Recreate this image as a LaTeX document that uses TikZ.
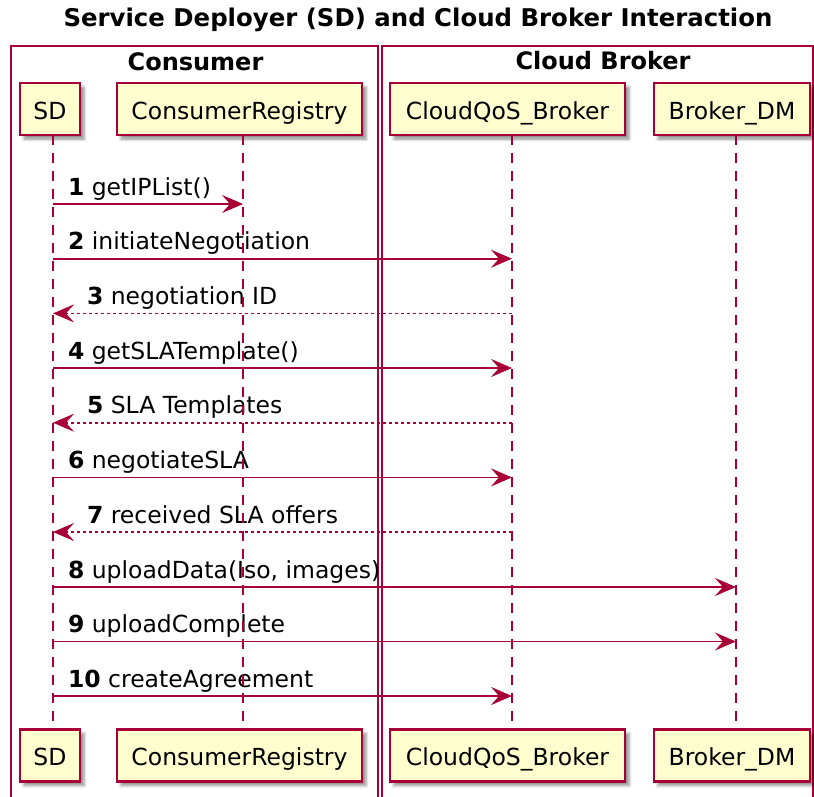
\documentclass[tikz,border=0pt]{standalone}
\usepackage{fontspec}
\setmainfont{DejaVu Sans}
\usetikzlibrary{arrows.meta,shadows.blur}

\definecolor{umlborder}{HTML}{A80036}
\definecolor{umlfill}{HTML}{FEFECE}

\begin{document}
\begin{tikzpicture}[x=1pt,y=-1pt,
  every node/.style={inner sep=0pt, outer sep=0pt, font=\fontsize{23.5}{28}\selectfont},
  actor/.style={draw=umlborder, fill=umlfill, line width=2.2pt,
    minimum height=52pt, text height=22pt, text depth=2pt,
    blur shadow={shadow xshift=4pt, shadow yshift=-4pt,
      shadow blur radius=3pt, shadow opacity=45}},
  groupbox/.style={draw=umlborder, line width=1.5pt},
  grouptitle/.style={anchor=base, font=\fontsize{24}{28}\selectfont\bfseries},
  lifeline/.style={draw=umlborder, line width=1.8pt, dash pattern=on 10pt off 8pt},
  call/.style={draw=umlborder, line width=1.8pt,
    -{Stealth[length=21pt, width=18pt, inset=8pt, fill=umlborder]}},
  reply/.style={call, dash pattern=on 3pt off 3pt},
  lbl/.style={anchor=base west}
]
\useasboundingbox (0,0) rectangle (814,796);
\clip (0,0) rectangle (814,796);

% title
\node[anchor=base, font=\fontsize{24.4}{28}\selectfont\bfseries] (title) at (418,26)
  {Service Deployer (SD) and Cloud Broker Interaction};

% participant groups
\draw[groupbox] (11,46) rectangle (378,810);
\draw[groupbox] (382,46) rectangle (813,810);
\node[grouptitle] (gConsumer) at (195.5,70) {Consumer};
\node[grouptitle] (gBroker) at (603,69) {Cloud Broker};

% participants, head and foot
\node[actor, minimum width=60pt]  (SDtop)  at (50,109)    {SD};
\node[actor, minimum width=245pt] (CRtop)  at (239.5,109) {ConsumerRegistry};
\node[actor, minimum width=235pt] (QoStop) at (507.5,109) {CloudQoS\_Broker};
\node[actor, minimum width=156pt] (DMtop)  at (732,109)   {Broker\_DM};

\node[actor, minimum width=60pt]  (SDbot)  at (50,755.5)    {SD};
\node[actor, minimum width=245pt] (CRbot)  at (239.5,755.5) {ConsumerRegistry};
\node[actor, minimum width=235pt] (QoSbot) at (507.5,755.5) {CloudQoS\_Broker};
\node[actor, minimum width=156pt] (DMbot)  at (732,755.5)   {Broker\_DM};

% lifeline positions
\coordinate (lSD)  at (53,0);
\coordinate (lCR)  at (243,0);
\coordinate (lQoS) at (512,0);
\coordinate (lDM)  at (736,0);

% message labels
\node[lbl] (m1)  at (68,195)    {\textbf{1} getIPList()};
\node[lbl] (m2)  at (68,249.7)  {\textbf{2} initiateNegotiation};
\node[lbl] (m3)  at (87,304.4)  {\textbf{3} negotiation ID};
\node[lbl] (m4)  at (68,359)    {\textbf{4} getSLATemplate()};
\node[lbl] (m5)  at (87,413.7)  {\textbf{5} SLA Templates};
\node[lbl] (m6)  at (68,468.4)  {\textbf{6} negotiateSLA};
\node[lbl] (m7)  at (87,523)    {\textbf{7} received SLA offers};
\node[lbl] (m8)  at (68,578)    {\textbf{8} uploadData(Iso, images)};
\node[lbl] (m9)  at (68,632.5)  {\textbf{9} uploadComplete};
\node[lbl] (m10) at (68,687)    {\textbf{10} createAgreement};

% lifelines
\draw[lifeline] (SDtop.south -| lSD)   -- (SDbot.north -| lSD);
\draw[lifeline] (CRtop.south -| lCR)   -- (CRbot.north -| lCR);
\draw[lifeline] (QoStop.south -| lQoS) -- (QoSbot.north -| lQoS);
\draw[lifeline] (DMtop.south -| lDM)   -- (DMbot.north -| lDM);

% messages
\draw[call]  (lSD |- 0,204)    -- (lCR |- 0,204);
\draw[call]  (lSD |- 0,258.7)  -- (lQoS |- 0,258.7);
\draw[reply] (lQoS |- 0,313.4) -- (lSD |- 0,313.4);
\draw[call]  (lSD |- 0,368)    -- (lQoS |- 0,368);
\draw[reply] (lQoS |- 0,422.7) -- (lSD |- 0,422.7);
\draw[call]  (lSD |- 0,477.4)  -- (lQoS |- 0,477.4);
\draw[reply] (lQoS |- 0,532)   -- (lSD |- 0,532);
\draw[call]  (lSD |- 0,587)    -- (lDM |- 0,587);
\draw[call]  (lSD |- 0,641.5)  -- (lDM |- 0,641.5);
\draw[call]  (lSD |- 0,696)    -- (lQoS |- 0,696);
\end{tikzpicture}
\end{document}
